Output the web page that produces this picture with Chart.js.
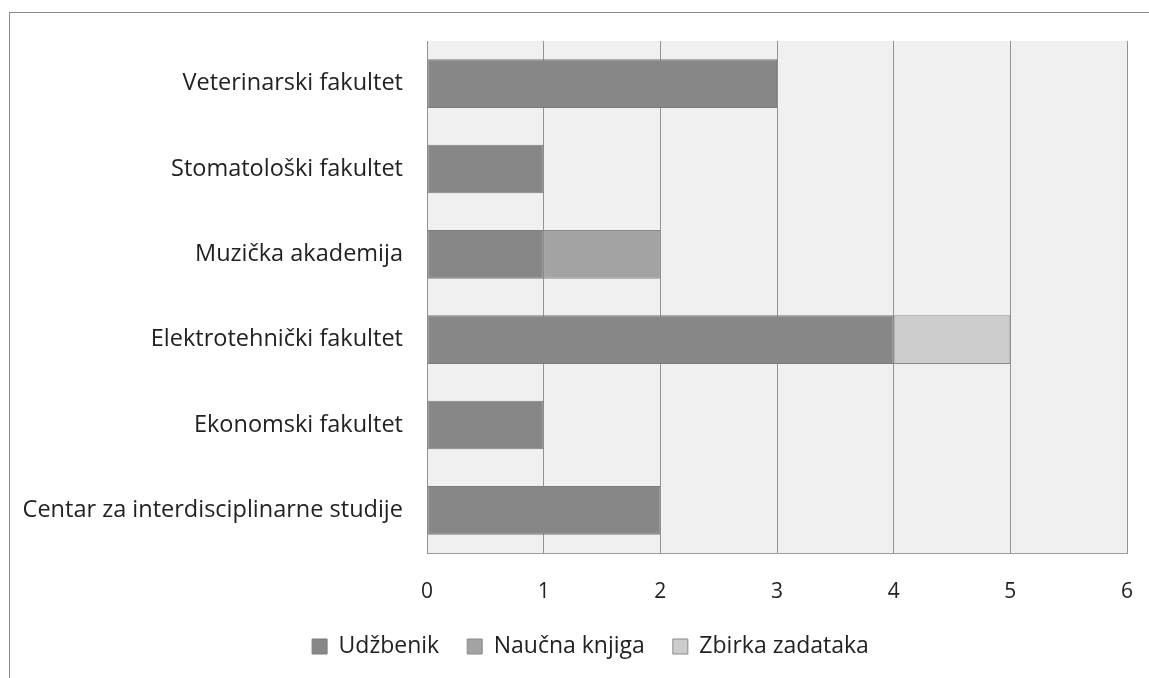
<!DOCTYPE html>
<html>
<head>
<meta charset="utf-8">
<script src="https://cdn.jsdelivr.net/npm/chart.js@4/dist/chart.umd.min.js"></script>
<style>
    html, body { margin: 0; padding: 0; background: #fff; }
    #wrap { position: relative; width: 1149px; height: 678px; }
    #frame {
        position: absolute; left: 9px; top: 12px; right: -5px; bottom: -5px;
        border-top: 1px solid #8a8a8a; border-left: 1px solid #8a8a8a;
    }
    canvas { position: absolute; left: 0; top: 0; }
</style>
</head>
<body>
<div id="wrap">
    <div id="frame"></div>
    <canvas id="chart" width="1149" height="678"></canvas>
</div>
<script>
    // data
    const categories = [
        'Veterinarski fakultet',
        'Stomatološki fakultet',
        'Muzička akademija',
        'Elektrotehnički fakultet',
        'Ekonomski fakultet',
        'Centar za interdisciplinarne studije'
    ];
    const udzbenik = [3, 1, 1, 4, 1, 2];
    const naucnaKnjiga = [0, 0, 1, 0, 0, 0];
    const zbirkaZadataka = [0, 0, 0, 1, 0, 0];
    const xTicks = [0, 1, 2, 3, 4, 5, 6];

    const FONT = '"Open Sans", Lato, sans-serif';

    // light gray plot background
    const plotBackground = {
        id: 'plotBackground',
        beforeDraw: function (chart) {
            const a = chart.chartArea;
            const ctx = chart.ctx;
            ctx.save();
            ctx.fillStyle = '#f0f0f0';
            ctx.fillRect(a.left, a.top, a.right - a.left, a.bottom - a.top);
            ctx.restore();
        }
    };

    // legend sits a bit right of the canvas centre
    const legendShift = {
        id: 'legendShift',
        afterLayout: function (chart) {
            if (!chart.legend) return;
            chart.legend.left += 27;
            chart.legend.right += 27;
        }
    };

    const ctx = document.getElementById('chart').getContext('2d');
    new Chart(ctx, {
        type: 'bar',
        data: {
            labels: categories,
            datasets: [{
                label: 'Udžbenik',
                data: udzbenik,
                backgroundColor: '#878787',
                borderColor: '#7d7d7d',
                borderWidth: 1
            }, {
                label: 'Naučna knjiga',
                data: naucnaKnjiga,
                backgroundColor: '#a3a3a3',
                borderColor: '#8a8a8a',
                borderWidth: 1
            }, {
                label: 'Zbirka zadataka',
                data: zbirkaZadataka,
                backgroundColor: '#cccccc',
                borderColor: '#8a8a8a',
                borderWidth: 1
            }]
        },
        options: {
            indexAxis: 'y',
            responsive: false,
            animation: false,
            layout: { padding: { top: 41, right: 22, left: 0, bottom: 10 } },
            datasets: { bar: { categoryPercentage: 1, barPercentage: 0.57, borderSkipped: false } },
            scales: {
                x: {
                    stacked: true,
                    min: 0,
                    max: 6,
                    afterBuildTicks: function (axis) {
                        axis.ticks = xTicks.map(v => ({ value: v }));
                    },
                    afterFit: function (axis) {
                        axis.height = 54;
                        axis.paddingLeft = 0;
                        axis.paddingRight = 0;
                    },
                    grid: { color: '#939393', drawTicks: false },
                    border: { display: true, color: '#9a9a9a' },
                    ticks: { padding: 26, color: '#222', font: { family: FONT, size: 21 } }
                },
                y: {
                    stacked: true,
                    afterFit: function (axis) { axis.width = 427; },
                    grid: { display: false, drawTicks: false },
                    border: { display: true, color: '#939393' },
                    ticks: {
                        padding: 24,
                        color: '#222',
                        font: { family: FONT, size: 23.5 }
                    }
                }
            },
            plugins: {
                legend: {
                    position: 'bottom',
                    labels: {
                        boxWidth: 15,
                        boxHeight: 15,
                        padding: 28,
                        color: '#222',
                        font: { family: FONT, size: 23 }
                    }
                },
                tooltip: { enabled: false }
            }
        },
        plugins: [plotBackground, legendShift]
    });
</script>
</body>
</html>
